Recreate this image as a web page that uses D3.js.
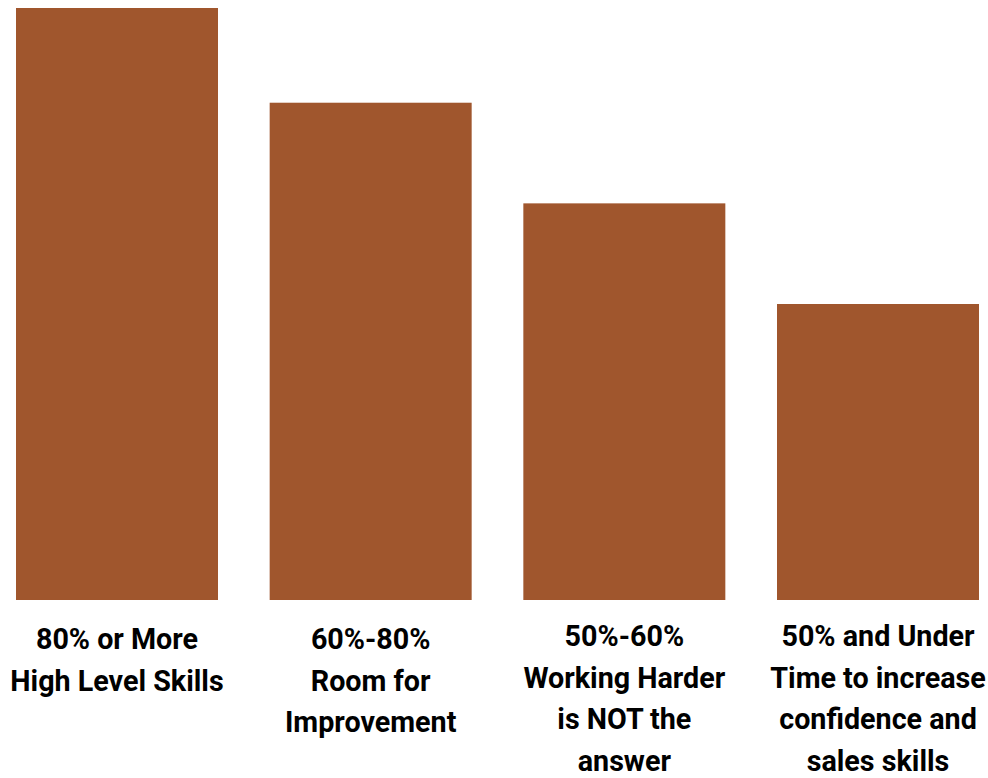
<!DOCTYPE html>
<html>
<head>
<meta charset="utf-8">
<script src="https://cdn.jsdelivr.net/npm/d3@7"></script>
<style>
  body { margin: 0; background: #fff; }
  .label { font-family: Roboto, "Noto Sans", sans-serif; font-weight: bold; font-size: 28.7px; fill: #000; }
</style>
</head>
<body>
<svg width="988" height="778"></svg>
<script>
// data
var categories = ["a", "b", "c", "d"];
var values = [100, 84, 67, 50];
var labelLines = [
    ["80% or More", "High Level Skills"],
    ["60%-80%", "Room for", "Improvement"],
    ["50%-60%", "Working Harder", "is NOT the", "answer"],
    ["50% and Under", "Time to increase", "confidence and", "sales skills"]
];

var svg = d3.select("svg");
var margin = {left: 16, right: 9, top: 8, bottom: 178};
var width = svg.attr("width") - margin.left - margin.right;
var height = svg.attr("height") - margin.top - margin.bottom;

var x = d3.scaleBand()
    .domain(categories)
    .range([margin.left, margin.left + width])
    .paddingInner(0.2037)
    .paddingOuter(0);

var y = d3.scaleLinear()
    .domain([0, d3.max(values)])
    .range([margin.top + height, margin.top]);

var g = svg.append("g");

g.selectAll(".bar")
    .data(values)
    .enter().append("rect")
    .attr("class", "bar")
    .attr("x", function(d, i) {return x(categories[i])})
    .attr("y", function(d) {return y(d)})
    .attr("width", x.bandwidth())
    .attr("height", function(d) {return y(0) - y(d)})
    .style("fill", "#A0562D");

var labels = g.selectAll(".label")
    .data(labelLines)
    .enter().append("text")
    .attr("class", "label")
    .attr("text-anchor", "middle")
    .attr("x", function(d, i) {return x(categories[i]) + x.bandwidth() / 2})
    .attr("y", function(d) {return y(0) + (d.length > 3 ? 46 : 49)});

labels.selectAll("tspan")
    .data(function(d) {return d})
    .enter().append("tspan")
    .attr("x", function() {return d3.select(this.parentNode).attr("x")})
    .attr("dy", function(d, i) {return i == 0 ? 0 : 41.5})
    .text(function(d) {return d});
</script>
</body>
</html>
